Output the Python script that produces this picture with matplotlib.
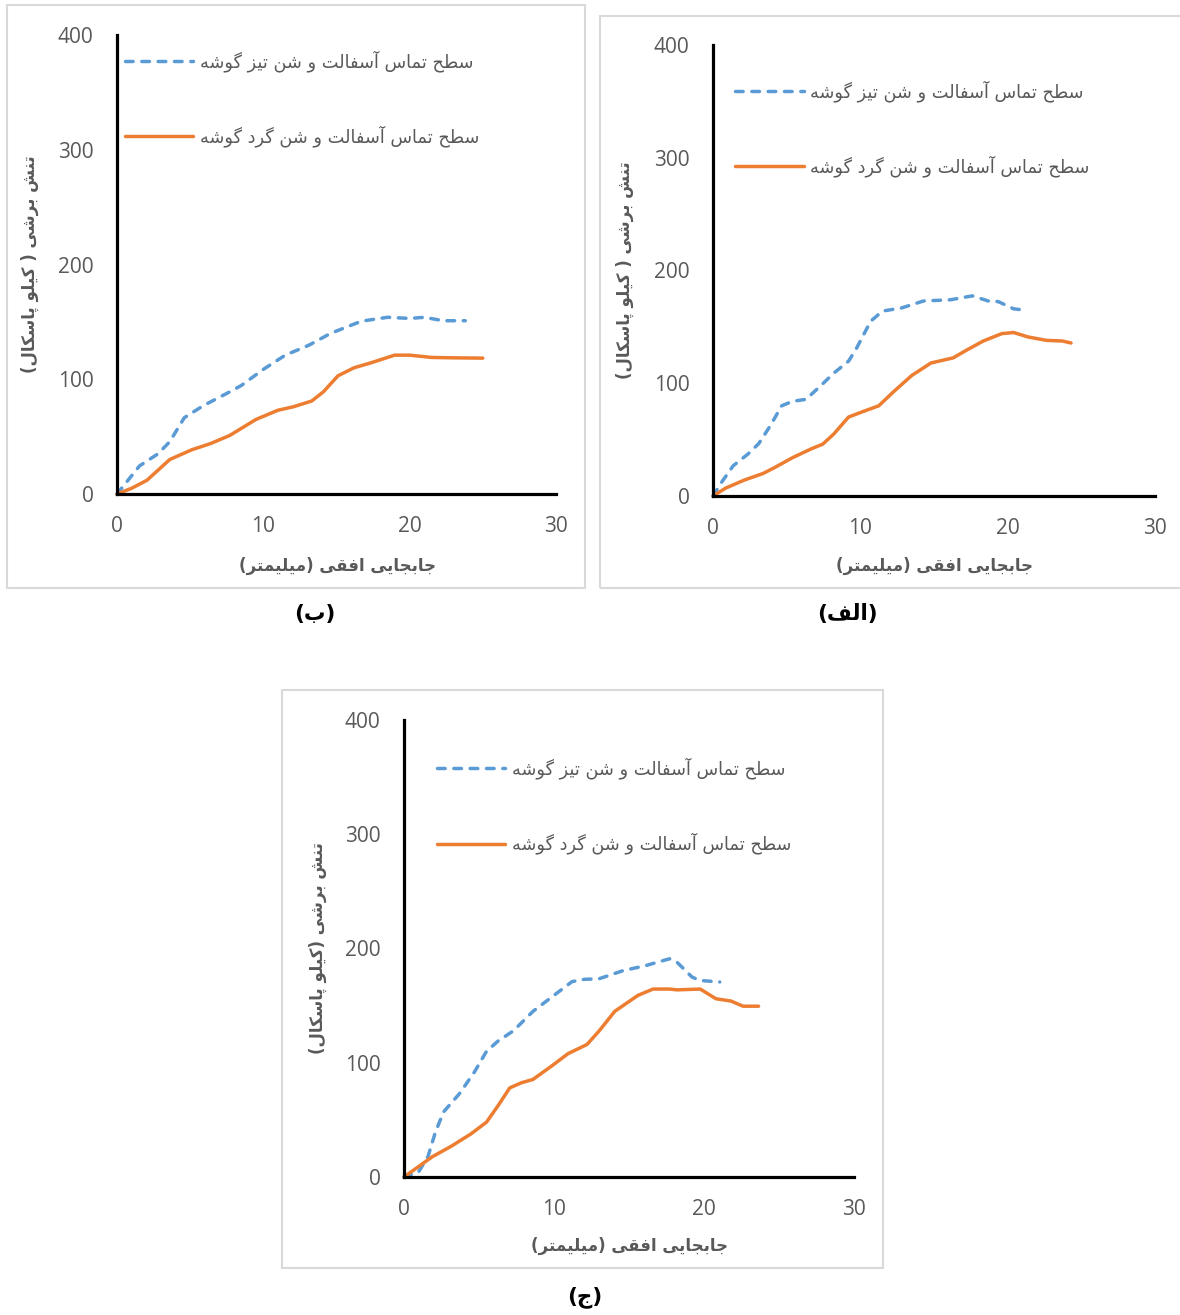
import matplotlib
matplotlib.use("Agg")
import matplotlib.pyplot as plt
from matplotlib.patches import Rectangle

# ---- data (x: mm, y: kPa) ----
# panel (الف)
alef_sharp_x = [0, 0.6, 1.37, 2.4, 3.1, 3.9, 4.66, 5.4, 6.3, 7.2, 8.2, 9.2, 9.7, 10.7, 11.5, 12.8, 14.3, 16.1, 17.6, 18.8, 19.35, 20.4, 21.1]
alef_sharp_y = [0, 12.5, 26.8, 37.5, 46.4, 62.5, 80, 84, 85.7, 96.4, 109, 119.6, 130, 155, 164, 166.8, 173, 174, 177.5, 172.5, 172.5, 166, 165]
alef_round_x = [0, 0.86, 2.1, 3.4, 4.15, 5.4, 6.7, 7.45, 8.2, 9.2, 10.2, 11.25, 12.3, 13.5, 14.8, 16.3, 17.3, 18.35, 19.6, 20.4, 21.4, 22.65, 23.7, 24.3]
alef_round_y = [0, 7, 14, 20, 25, 34, 42, 46, 55, 70, 75, 80, 93, 107, 118, 122.5, 130, 137.5, 144, 145, 141, 138, 137.5, 135.7]

# panel (ب)
be_sharp_x = [0, 1.54, 2.8, 3.6, 4.6, 5.9, 7.7, 8.5, 10, 11.5, 13.1, 14.6, 16.7, 18.5, 20, 21, 22.3, 23.8]
be_sharp_y = [0, 24.5, 35, 45.5, 66.5, 77, 89, 94.6, 108.6, 121, 129.6, 140, 150.6, 154, 153, 154, 151, 151]
be_round_x = [0, 1.0, 2.05, 3.6, 5.1, 6.4, 7.7, 9.5, 11, 12.05, 13.3, 14.1, 15.1, 16.2, 17.4, 18.97, 20, 21.5, 22.8, 25]
be_round_y = [0, 5, 12, 30, 38.5, 44, 51, 65, 73, 76, 81, 89, 103, 110, 114.5, 121, 121, 119, 118.7, 118.4]

# panel (ج)
jim_sharp_x = [0, 0.96, 1.6, 2.1, 2.64, 3.7, 4.7, 5.5, 6.27, 7.3, 8.6, 9.9, 11.2, 12.0, 13.0, 14.6, 16.1, 17.7, 18.2, 19.2, 19.75, 21.05]
jim_sharp_y = [0, 4.2, 18, 39.5, 57, 73, 92, 110, 119, 128, 145, 158, 171, 173, 173.5, 180.6, 185, 191, 188, 175, 172, 170.7]
jim_round_x = [0, 0.83, 1.87, 3.16, 4.46, 5.5, 6.27, 7.05, 7.83, 8.6, 9.9, 10.94, 12.2, 13.0, 14.05, 15.6, 16.6, 17.7, 18.2, 19.75, 20.8, 21.8, 22.6, 23.64]
jim_round_y = [0, 7.8, 17.6, 27, 37.7, 48, 62.4, 78, 82.5, 85.4, 97.7, 108, 116, 127.7, 145, 159, 164.5, 164.5, 163.8, 164.5, 156, 154, 149.5, 149.5]

x_ticks = [0, 10, 20, 30]
y_ticks = [0, 100, 200, 300, 400]

label_sharp = "سطح تماس آسفالت و شن تیز گوشه"
label_round = "سطح تماس آسفالت و شن گرد گوشه"
x_title = "جابجایی افقی (میلیمتر)"
y_title_top = "تنش برشی ( کیلو پاسکال)"
y_title_bottom = "تنش برشی (کیلو پاسکال)"

# ---- minimal arabic/persian shaping (matplotlib has no bidi) ----
FORMS = {  # isolated, final, initial, medial
    'ا': (0xFE8D, 0xFE8E, None, None), 'آ': (0xFE81, 0xFE82, None, None),
    'د': (0xFEA9, 0xFEAA, None, None), 'ر': (0xFEAD, 0xFEAE, None, None),
    'ز': (0xFEAF, 0xFEB0, None, None), 'و': (0xFEED, 0xFEEE, None, None),
    'ب': (0xFE8F, 0xFE90, 0xFE91, 0xFE92), 'ت': (0xFE95, 0xFE96, 0xFE97, 0xFE98),
    'ج': (0xFE9D, 0xFE9E, 0xFE9F, 0xFEA0), 'ح': (0xFEA1, 0xFEA2, 0xFEA3, 0xFEA4),
    'س': (0xFEB1, 0xFEB2, 0xFEB3, 0xFEB4), 'ش': (0xFEB5, 0xFEB6, 0xFEB7, 0xFEB8),
    'ط': (0xFEC1, 0xFEC2, 0xFEC3, 0xFEC4), 'ف': (0xFED1, 0xFED2, 0xFED3, 0xFED4),
    'ق': (0xFED5, 0xFED6, 0xFED7, 0xFED8), 'ل': (0xFEDD, 0xFEDE, 0xFEDF, 0xFEE0),
    'م': (0xFEE1, 0xFEE2, 0xFEE3, 0xFEE4), 'ن': (0xFEE5, 0xFEE6, 0xFEE7, 0xFEE8),
    'ه': (0xFEE9, 0xFEEA, 0xFEEB, 0xFEEC), 'پ': (0xFB56, 0xFB57, 0xFB58, 0xFB59),
    'ک': (0xFB8E, 0xFB8F, 0xFB90, 0xFB91), 'گ': (0xFB92, 0xFB93, 0xFB94, 0xFB95),
    'ی': (0xFBFC, 0xFBFD, 0xFBFE, 0xFBFF),
}
LAM_ALEF = {'ا': (0xFEFB, 0xFEFC), 'آ': (0xFEF5, 0xFEF6)}
MIRROR = {'(': ')', ')': '('}


def fa(text):
    out = []
    prev_joins = False
    i = 0
    while i < len(text):
        c = text[i]
        if c not in FORMS:
            out.append(MIRROR.get(c, c))
            prev_joins = False
            i += 1
            continue
        nxt = text[i + 1] if i + 1 < len(text) else ''
        if c == 'ل' and nxt in LAM_ALEF:
            iso, fin = LAM_ALEF[nxt]
            out.append(chr(fin if prev_joins else iso))
            prev_joins = False
            i += 2
            continue
        iso, fin, ini, med = FORMS[c]
        next_joins = ini is not None and nxt in FORMS
        if prev_joins and next_joins:
            g = med
        elif prev_joins:
            g = fin
        elif next_joins:
            g = ini
        else:
            g = iso
        out.append(chr(g))
        prev_joins = ini is not None
        i += 1
    return ''.join(reversed(out))


BLUE = '#5B9BD5'
ORANGE = '#ED7D31'
GREY = '#595959'
W, H = 1180, 1315

plt.rcParams['font.family'] = ['DejaVu Sans']
fig = plt.figure(figsize=(W / 100, H / 100), dpi=100)


def frame(x0, y0, x1, y1):
    fig.patches.append(Rectangle((x0 / W, 1 - y1 / H), (x1 - x0) / W, (y1 - y0) / H,
                                 transform=fig.transFigure, fill=False,
                                 edgecolor='#d9d9d9', linewidth=1.5))


def panel(rect, sx, sy, rx, ry, ytitle, leg_x, leg_top, ylab_x, xlab_y):
    ax = fig.add_axes(rect)
    ax.plot(sx, sy, color=BLUE, linewidth=2.5, dashes=(2.2, 2.5),
            dash_capstyle='round', solid_joinstyle='round',
            label=fa(label_sharp), clip_on=False)
    ax.plot(rx, ry, color=ORANGE, linewidth=2.5, solid_capstyle='round',
            solid_joinstyle='round', label=fa(label_round), clip_on=False)
    ax.set_xlim(0, 30)
    ax.set_ylim(0, 400)
    ax.set_xticks(x_ticks)
    ax.set_yticks(y_ticks)
    for s in ('top', 'right'):
        ax.spines[s].set_visible(False)
    for s in ('left', 'bottom'):
        ax.spines[s].set_linewidth(2.3)
        ax.spines[s].set_color('black')
    ax.tick_params(length=0, labelcolor=GREY, labelsize=15)
    ax.tick_params(axis='y', pad=17)
    ax.tick_params(axis='x', pad=16)
    for t in ax.get_xticklabels() + ax.get_yticklabels():
        t.set_family('Open Sans')
    ax.set_xlabel(fa(x_title), color=GREY, fontsize=12, fontweight='bold', va='center')
    ax.xaxis.set_label_coords(0.502, xlab_y)
    ax.set_ylabel(fa(ytitle), color=GREY, fontsize=12, fontweight='bold', va='center')
    ax.yaxis.set_label_coords(ylab_x, 0.5)
    leg = ax.legend(loc='upper left', bbox_to_anchor=(leg_x, leg_top), frameon=False,
                    fontsize=12.8, handlelength=3.85, handletextpad=0.35,
                    labelspacing=3.01, borderpad=0, borderaxespad=0)
    for t in leg.get_texts():
        t.set_color(GREY)
    return ax


# (ب) top left
frame(7, 5, 585, 588)
panel([117 / W, 1 - 494 / H, 439 / W, 459 / H], be_sharp_x, be_sharp_y,
      be_round_x, be_round_y, y_title_top, 0.018, 0.967, -0.198, -0.157)
fig.text(315 / W, 1 - 614 / H, fa("(ب)"), ha='center', va='center',
         fontsize=15.5, fontweight='bold', color='black')

# (الف) top right
frame(600, 16, 1190, 588)
panel([713 / W, 1 - 496 / H, 442 / W, 451 / H], alef_sharp_x, alef_sharp_y,
      alef_round_x, alef_round_y, y_title_top, 0.05, 0.922, -0.199, -0.155)
fig.text(847 / W, 1 - 614 / H, fa("(الف)"), ha='center', va='center',
         fontsize=15.5, fontweight='bold', color='black')

# (ج) bottom
frame(282, 690, 883, 1268)
panel([404 / W, 1 - 1177 / H, 450 / W, 457 / H], jim_sharp_x, jim_sharp_y,
      jim_round_x, jim_round_y, y_title_bottom, 0.073, 0.918, -0.191, -0.151)
fig.text(585 / W, 1 - 1297 / H, fa("(ج)"), ha='center', va='center',
         fontsize=15.5, fontweight='bold', color='black')

fig.savefig("out.png", dpi=100)
